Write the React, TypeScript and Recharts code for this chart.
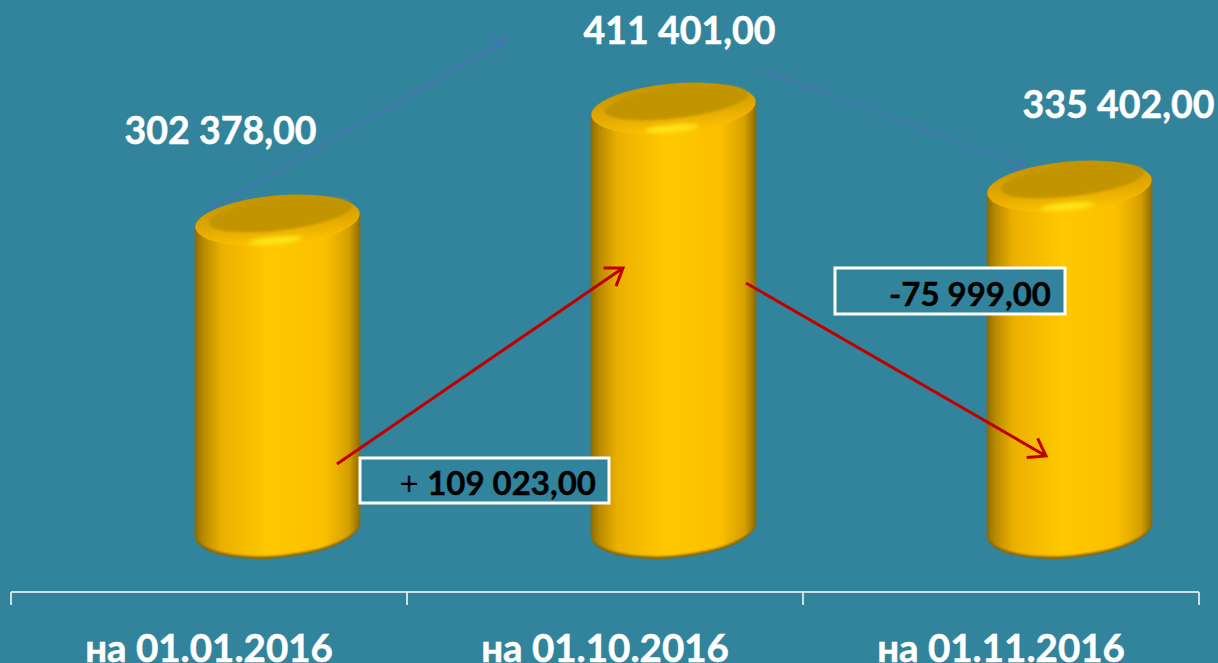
import { BarChart, Bar, XAxis, YAxis, LabelList } from 'recharts';

const categories = ['на 01.01.2016', 'на 01.10.2016', 'на 01.11.2016'];
const balances = [302378, 411401, 335402];

const BG = '#31849B';
const FONT = 'Lato, "Open Sans", sans-serif';
const WIDTH = 1218;
const HEIGHT = 663;
const BLUE = '#4C70B8';

// the 3D bars sit to the right of their category centre in the original
const BAR_SHIFT = 68;
const BAR_WIDTH = 165;
const TILT = -5;
const HALF_BAND = 198;

// where each value label sits relative to its bar top
const labelNudge = [
  { dx: -57, dy: -90 },
  { dx: 6, dy: -78 },
  { dx: 49, dy: -82 },
];

const formatValue = (v: number) => {
  const s = String(Math.round(v));
  return `${s.slice(0, s.length - 3)} ${s.slice(-3)},00`;
};

function Cylinder(props: any) {
  const { x, y, width, height } = props;
  const cx = x + width / 2 + BAR_SHIFT;
  const rx = BAR_WIDTH / 2;
  const left = cx - rx;
  const right = cx + rx;
  const slope = 7.2;
  const base = y + height;
  const body = (bottom: number) =>
    `M${left},${y + slope} L${left},${bottom + slope} A${rx},28 ${TILT} 0 0 ${right},${bottom - slope} L${right},${y - slope} Z`;
  return (
    <g>
      <path d={body(base)} fill="#86660A" />
      <path d={body(base - 2.5)} fill="url(#bodyGrad)" filter="url(#soft1)" />
      <ellipse
        cx={cx}
        cy={y + 1}
        rx={rx}
        ry={25}
        fill="url(#lipGrad)"
        transform={`rotate(${TILT} ${cx} ${y + 1})`}
      />
      <ellipse
        cx={cx + 3}
        cy={y - 5}
        rx={72}
        ry={15.5}
        fill="#C29400"
        filter="url(#soft1)"
        transform={`rotate(${TILT - 2} ${cx + 3} ${y - 5})`}
      />
      <ellipse
        cx={cx - 2}
        cy={y + 21}
        rx={27}
        ry={3.5}
        fill="#FFE81A"
        filter="url(#soft2)"
        transform={`rotate(${TILT} ${cx - 2} ${y + 21})`}
      />
    </g>
  );
}

function ValueLabel(props: any) {
  const { x, y, width, value, index } = props;
  const n = labelNudge[index];
  return (
    <text
      x={x + width / 2 + BAR_SHIFT + n.dx}
      y={y + n.dy}
      textAnchor="middle"
      dominantBaseline="central"
      fill="#fff"
      stroke="#fff"
      strokeWidth={0.5}
      fontFamily={FONT}
      fontWeight={700}
      fontSize={37.5}
    >
      {formatValue(value)}
    </text>
  );
}

function CategoryTick(props: any) {
  const { x, y, payload, index } = props;
  const lastTick = index === categories.length - 1;
  return (
    <g>
      <line x1={x - HALF_BAND} x2={x - HALF_BAND} y1={y} y2={y + 13} stroke="#fff" strokeWidth={1.5} />
      {lastTick && <line x1={x + HALF_BAND} x2={x + HALF_BAND} y1={y} y2={y + 13} stroke="#fff" strokeWidth={1.5} />}
      <text
        x={x}
        y={y + 55}
        textAnchor="middle"
        dominantBaseline="central"
        fill="#fff"
        stroke="#fff"
        strokeWidth={0.5}
        fontFamily={FONT}
        fontWeight={700}
        fontSize={38.5}
      >
        {payload.value}
      </text>
    </g>
  );
}

function Annotations() {
  return (
    <svg width={WIDTH} height={HEIGHT} style={{ position: 'absolute', left: 0, top: 0 }}>
      <defs>
        <marker id="headRed" markerUnits="userSpaceOnUse" markerWidth="30" markerHeight="30" refX="20" refY="15" orient="auto">
          <path d="M4,4 L20,15 L4,26" fill="none" stroke="#C00000" strokeWidth={3} />
        </marker>
        <marker id="headBlue" markerUnits="userSpaceOnUse" markerWidth="30" markerHeight="30" refX="20" refY="15" orient="auto">
          <path d="M6,6 L20,15 L6,24" fill="none" stroke={BLUE} strokeWidth={1.5} />
        </marker>
      </defs>
      <line x1={757} y1={68} x2={1025} y2={166} stroke={BLUE} strokeWidth={1.5} markerEnd="url(#headBlue)" />
      <line x1={205} y1={212} x2={505} y2={41} stroke={BLUE} strokeWidth={1.5} markerEnd="url(#headBlue)" />
      <line x1={337} y1={464} x2={623} y2={268} stroke="#C00000" strokeWidth={3} markerEnd="url(#headRed)" />
      <line x1={746} y1={283} x2={1046} y2={456} stroke="#C00000" strokeWidth={3} markerEnd="url(#headRed)" />
      <rect x={360} y={458} width={249} height={45} fill={BG} stroke="#fff" strokeWidth={3} />
      <text x={596} y={482} textAnchor="end" dominantBaseline="central" fontFamily={FONT} fontSize={33} fill="#000">
        <tspan fontWeight={400}>+ </tspan>
        <tspan fontWeight={700} stroke="#000" strokeWidth={0.4}>109 023,00</tspan>
      </text>
      <rect x={835} y={268} width={230} height={46} fill={BG} stroke="#fff" strokeWidth={3} />
      <text x={1051} y={293} textAnchor="end" dominantBaseline="central" fontFamily={FONT} fontWeight={700} fontSize={33} fill="#000" stroke="#000" strokeWidth={0.4}>
        -75 999,00
      </text>
    </svg>
  );
}

export default function App() {
  const data = categories.map((name, i) => ({ name, value: balances[i] }));
  return (
    <div style={{ position: 'absolute', left: 0, top: 0, width: WIDTH, height: HEIGHT, background: BG, overflow: 'hidden' }}>
      <div style={{ position: 'absolute', left: 0, top: 0 }}>
        <BarChart
          width={WIDTH}
          height={HEIGHT}
          data={data}
          barSize={BAR_WIDTH}
          margin={{ top: 0, right: 19, bottom: 41, left: 11 }}
        >
          <defs>
            <linearGradient id="bodyGrad" x1="0" y1="0" x2="1" y2="0">
              <stop offset="0%" stopColor="#8F6C00" />
              <stop offset="5%" stopColor="#B88A00" />
              <stop offset="16%" stopColor="#EBB000" />
              <stop offset="45%" stopColor="#FFC800" />
              <stop offset="78%" stopColor="#FBC000" />
              <stop offset="93%" stopColor="#D6A000" />
              <stop offset="100%" stopColor="#8F6C00" />
            </linearGradient>
            <linearGradient id="lipGrad" x1="0" y1="0" x2="0" y2="1">
              <stop offset="0%" stopColor="#C29400" />
              <stop offset="60%" stopColor="#E4AA00" />
              <stop offset="100%" stopColor="#FFC400" />
            </linearGradient>
            <filter id="soft1" x="-5%" y="-5%" width="110%" height="110%">
              <feGaussianBlur stdDeviation="1" />
            </filter>
            <filter id="soft2" x="-30%" y="-100%" width="160%" height="300%">
              <feGaussianBlur stdDeviation="2" />
            </filter>
          </defs>
          <XAxis
            dataKey="name"
            axisLine={{ stroke: '#fff', strokeWidth: 1.5 }}
            tickLine={false}
            tickSize={0}
            tickMargin={0}
            interval={0}
            tick={<CategoryTick />}
          />
          <YAxis hide domain={[-60400, 516000]} />
          <Bar dataKey="value" shape={<Cylinder />} isAnimationActive={false}>
            <LabelList dataKey="value" content={<ValueLabel />} />
          </Bar>
        </BarChart>
      </div>
      <Annotations />
    </div>
  );
}
